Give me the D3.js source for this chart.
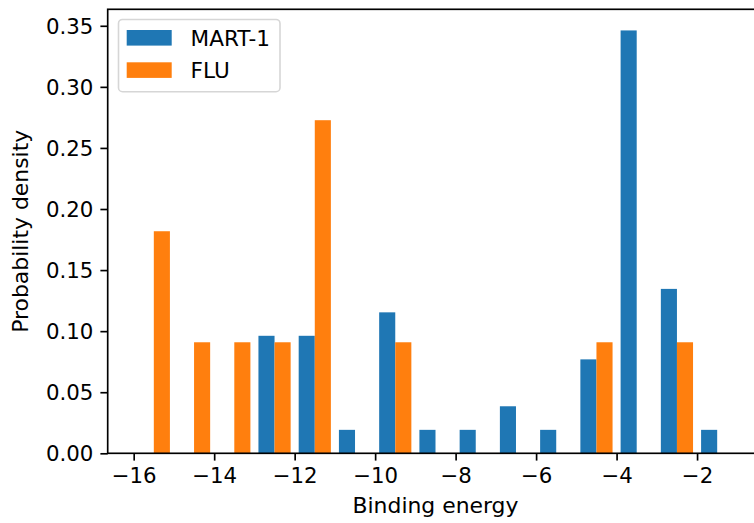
<!DOCTYPE html>
<html>
<head>
<meta charset="utf-8">
<script src="https://cdn.jsdelivr.net/npm/d3@7"></script>
<style>
  html, body { margin: 0; padding: 0; background: #fff; }
  svg { display: block; font-family: "DejaVu Sans", sans-serif; }
</style>
</head>
<body>
<svg id="chart" width="754" height="523"></svg>
<script>
// Histogram bins (left edges, unit width) of binding energy
const binStarts = [-16, -15, -14, -13, -12, -11, -10, -9, -8, -7, -6, -5, -4, -3, -2];
const binWidth = 1;

// Normalised densities per bin
const mart1 = [0, 0, 0, 0.0962, 0.0962, 0.0192, 0.1154, 0.0192, 0.0192, 0.0385, 0.0192, 0.0769, 0.3462, 0.1346, 0.0192];
const flu   = [0.1818, 0.0909, 0.0909, 0.0909, 0.2727, 0, 0.0909, 0, 0, 0, 0, 0.0909, 0, 0.0909, 0];

const seriesNames = ["MART-1", "FLU"];
const seriesColors = ["#1f77b4", "#ff7f0e"];

const xTicks = [-16, -14, -12, -10, -8, -6, -4, -2];
const yTicks = [0, 0.05, 0.10, 0.15, 0.20, 0.25, 0.30, 0.35];

const svg = d3.select("#chart");
const plot = { left: 107.7, right: 763.3, top: 9.3, bottom: 453.3 };
const tickFont = 21.3;
const labelFont = 21.9;
const legendFont = 21.6;
const tickLen = 7.3;
const lineW = 1.67;

const x = d3.scaleLinear().domain([-16.646, -0.354]).range([plot.left, plot.right]);
const y = d3.scaleLinear().domain([0, 0.3635]).range([plot.bottom, plot.top]);

// Bars: two series share each bin, each taking 40% of the bin width
const series = [mart1, flu];
series.forEach((vals, s) => {
  svg.append("g")
    .selectAll("rect")
    .data(binStarts.map((b, i) => ({ b, v: vals[i] })).filter(d => d.v > 0))
    .join("rect")
    .attr("x", d => x(d.b + binWidth * (0.1 + 0.4 * s)))
    .attr("width", d => x(d.b + binWidth * 0.4) - x(d.b))
    .attr("y", d => y(d.v))
    .attr("height", d => y(0) - y(d.v))
    .attr("fill", seriesColors[s]);
});

// Axes
const xAxis = d3.axisBottom(x).tickValues(xTicks).tickFormat(d3.format("d"))
  .tickSize(tickLen).tickPadding(6);
const yAxis = d3.axisLeft(y).tickValues(yTicks).tickFormat(d3.format(".2f"))
  .tickSize(tickLen).tickPadding(7);

const gx = svg.append("g").attr("transform", `translate(0,${plot.bottom})`).call(xAxis);
const gy = svg.append("g").attr("transform", `translate(${plot.left},0)`).call(yAxis);

[gx, gy].forEach(g => {
  g.select(".domain").remove();
  g.selectAll(".tick line").attr("stroke", "#000").attr("stroke-width", lineW);
  g.selectAll(".tick text").attr("fill", "#000")
    .style("font-size", tickFont + "px").style("font-family", "DejaVu Sans");
});
gx.selectAll(".tick text").attr("dy", "0.78em");
gy.selectAll(".tick text").attr("dy", "0.36em");

// Spines (right spine lies outside the visible area)
svg.append("rect")
  .attr("x", plot.left).attr("y", plot.top)
  .attr("width", plot.right - plot.left).attr("height", plot.bottom - plot.top)
  .attr("fill", "none").attr("stroke", "#000").attr("stroke-width", lineW);

// Axis labels
svg.append("text")
  .attr("x", 435.5).attr("y", 513)
  .attr("text-anchor", "middle")
  .style("font-size", labelFont + "px")
  .text("Binding energy");

svg.append("text")
  .attr("transform", `translate(28,${(plot.top + plot.bottom) / 2}) rotate(-90)`)
  .attr("text-anchor", "middle")
  .style("font-size", labelFont + "px")
  .text("Probability density");

// Legend
const lg = svg.append("g");
lg.append("rect")
  .attr("x", 118.5).attr("y", 19.5).attr("width", 161.5).attr("height", 72.2)
  .attr("rx", 4).attr("ry", 4)
  .attr("fill", "#fff").attr("fill-opacity", 0.8)
  .attr("stroke", "#d6d6d6").attr("stroke-width", 1.6);
seriesNames.forEach((name, i) => {
  const yy = 30 + i * 32.3;
  lg.append("rect")
    .attr("x", 126.7).attr("y", yy).attr("width", 45).attr("height", 15.6)
    .attr("fill", seriesColors[i]);
  lg.append("text")
    .attr("x", 190.5).attr("y", yy + 15.6)
    .style("font-size", legendFont + "px")
    .text(name);
});
</script>
</body>
</html>
